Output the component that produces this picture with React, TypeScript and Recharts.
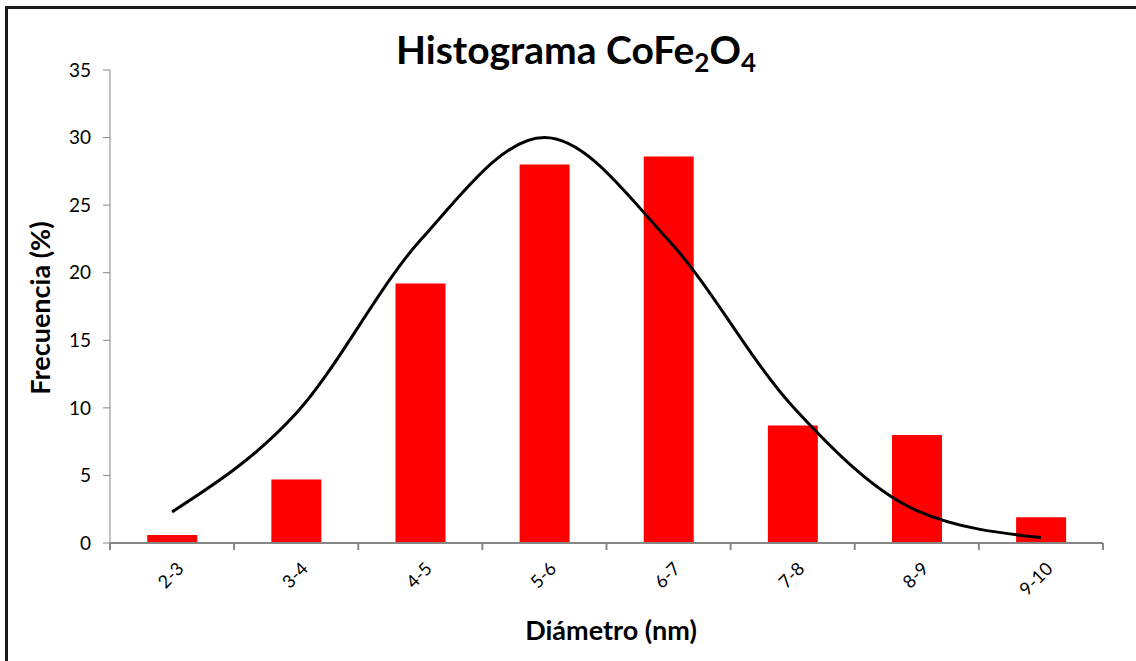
import { ComposedChart, Bar, Line, XAxis, YAxis } from "recharts";

// Size-class histogram of the particles (%) and the fitted distribution curve
const categories = ["2-3", "3-4", "4-5", "5-6", "6-7", "7-8", "8-9", "9-10"];
const frequency = [0.6, 4.7, 19.2, 28.0, 28.6, 8.7, 8.0, 1.9];
const fitCurve = [2.3, 9.6, 22.4, 30.0, 22.4, 10.1, 2.4, 0.4];
const yTicks = [0, 5, 10, 15, 20, 25, 30, 35];

const chartData = categories.map((range, i) => ({
  range,
  frequency: frequency[i],
  fit: fitCurve[i],
}));

const WIDTH = 1136;
const HEIGHT = 661;
const MARGIN = { top: 70, right: 33, bottom: 48, left: 0 };
const Y_AXIS_WIDTH = 110;
const X_AXIS_HEIGHT = 70;
const PLOT_BOTTOM = HEIGHT - MARGIN.bottom - X_AXIS_HEIGHT;
const BAND = (WIDTH - MARGIN.right - Y_AXIS_WIDTH) / categories.length;
const AXIS_COLOR = "#868686";
const FONT = "Lato, 'Open Sans', sans-serif";

// Excel-style category ticks: marks sit on the band edges, labels are slanted
function CategoryTick(props: any) {
  const { x, payload, index } = props;
  const left = x - BAND / 2;
  const tx = x + 8;
  const ty = PLOT_BOTTOM + 22;
  return (
    <g>
      <line x1={left} x2={left} y1={PLOT_BOTTOM} y2={PLOT_BOTTOM + 7} stroke={AXIS_COLOR} strokeWidth={2} />
      {index === categories.length - 1 && (
        <line x1={x + BAND / 2} x2={x + BAND / 2} y1={PLOT_BOTTOM} y2={PLOT_BOTTOM + 7} stroke={AXIS_COLOR} strokeWidth={2} />
      )}
      <text
        x={tx}
        y={ty}
        transform={`rotate(-45, ${tx}, ${ty})`}
        textAnchor="end"
        dominantBaseline="central"
        fontSize={18}
        fontFamily={FONT}
        fill="#000"
      >
        {payload.value}
      </text>
    </g>
  );
}

export default function App() {
  return (
    <div
      style={{
        position: "absolute",
        left: 0,
        top: 0,
        width: WIDTH,
        height: HEIGHT,
        overflow: "hidden",
        background: "#fff",
      }}
    >
      <div
        style={{
          position: "absolute",
          left: 5,
          top: 6,
          width: WIDTH + 20,
          height: HEIGHT + 20,
          borderLeft: "3px solid #1a1a1a",
          borderTop: "3px solid #1a1a1a",
        }}
      />
      <ComposedChart width={WIDTH} height={HEIGHT} data={chartData} margin={MARGIN} barCategoryGap="30%">
        <XAxis
          dataKey="range"
          height={X_AXIS_HEIGHT}
          stroke={AXIS_COLOR}
          strokeWidth={2}
          tickLine={false}
          tick={<CategoryTick />}
          interval={0}
        />
        <YAxis
          width={Y_AXIS_WIDTH}
          domain={[0, 35]}
          ticks={yTicks}
          stroke={AXIS_COLOR}
          tickSize={7}
          tickMargin={12}
          tick={{ fontSize: 19, fill: "#000", fontFamily: FONT }}
        />
        <Bar dataKey="frequency" fill="#ff0000" isAnimationActive={false} />
        <Line
          dataKey="fit"
          type="monotone"
          stroke="#000"
          strokeWidth={3}
          dot={false}
          isAnimationActive={false}
        />
      </ComposedChart>
      <svg
        width={WIDTH}
        height={HEIGHT}
        style={{ position: "absolute", left: 0, top: 0, pointerEvents: "none" }}
      >
        <text x={576} y={64} textAnchor="middle" fontFamily={FONT} fontWeight="bold" fontSize={39} fill="#000">
          Histograma CoFe
          <tspan fontSize={26} dy={8}>2</tspan>
          <tspan dy={-8}>O</tspan>
          <tspan fontSize={26} dy={8}>4</tspan>
        </text>
        <text
          x={39}
          y={308}
          transform="rotate(-90, 39, 308)"
          textAnchor="middle"
          dominantBaseline="central"
          fontFamily={FONT}
          fontWeight="bold"
          fontSize={27}
          fill="#000"
        >
          Frecuencia (%)
        </text>
        <text x={611} y={640} textAnchor="middle" fontFamily={FONT} fontWeight="bold" fontSize={27} fill="#000">
          Diámetro (nm)
        </text>
      </svg>
    </div>
  );
}
